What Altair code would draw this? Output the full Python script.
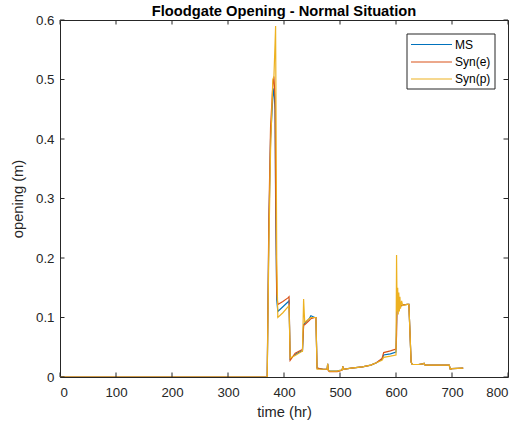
import altair as alt
import pandas as pd

# Gate opening time series (hours, metres)
time_hr = [0, 370, 373, 376, 380, 382, 384, 385, 387, 389, 398, 407, 409, 411,
           420, 430, 433, 435, 437, 445, 448, 455, 457, 459, 470, 477, 478, 479,
           481, 495, 500, 504, 505, 506, 520, 540, 555, 565, 572, 575, 578, 590,
           600, 601, 602, 603, 604, 605, 606, 607, 608, 610, 612, 620, 623, 627,
           629, 640, 648, 650, 652, 695, 697, 700, 720]

ms = [0, 0, 0.25, 0.40, 0.47, 0.485, 0.45, 0.30, 0.13, 0.110, 0.118, 0.126, 0.128, 0.030,
      0.038, 0.043, 0.044, 0.088, 0.090, 0.098, 0.103, 0.100, 0.100, 0.015, 0.013, 0.013, 0.022, 0.012,
      0.010, 0.010, 0.011, 0.012, 0.018, 0.013, 0.015, 0.017, 0.020, 0.024, 0.028, 0.030, 0.037, 0.039,
      0.042, 0.090, 0.148, 0.135, 0.130, 0.125, 0.122, 0.120, 0.120, 0.120, 0.121, 0.122, 0.122, 0.025,
      0.021, 0.021, 0.022, 0.023, 0.020, 0.020, 0.013, 0.014, 0.015]

syn_e = [0, 0, 0.27, 0.42, 0.49, 0.505, 0.47, 0.32, 0.14, 0.122, 0.127, 0.133, 0.135, 0.028,
         0.040, 0.045, 0.046, 0.087, 0.088, 0.095, 0.098, 0.100, 0.100, 0.015, 0.013, 0.013, 0.022, 0.011,
         0.009, 0.009, 0.010, 0.012, 0.018, 0.013, 0.015, 0.017, 0.020, 0.024, 0.029, 0.031, 0.041, 0.044,
         0.047, 0.070, 0.130, 0.140, 0.128, 0.125, 0.122, 0.120, 0.120, 0.120, 0.121, 0.122, 0.122, 0.025,
         0.021, 0.021, 0.022, 0.023, 0.020, 0.020, 0.013, 0.014, 0.015]

syn_p = [0, 0, 0.22, 0.38, 0.50, 0.505, 0.56, 0.59, 0.20, 0.100, 0.108, 0.118, 0.120, 0.032,
         0.036, 0.042, 0.043, 0.131, 0.092, 0.098, 0.100, 0.100, 0.100, 0.013, 0.013, 0.013, 0.022, 0.012,
         0.010, 0.010, 0.011, 0.012, 0.018, 0.013, 0.015, 0.017, 0.020, 0.024, 0.027, 0.028, 0.033, 0.035,
         0.037, 0.205, 0.110, 0.150, 0.105, 0.142, 0.110, 0.135, 0.115, 0.128, 0.120, 0.122, 0.122, 0.025,
         0.021, 0.021, 0.022, 0.023, 0.020, 0.020, 0.013, 0.014, 0.015]

series_names = ["MS", "Syn(e)", "Syn(p)"]
series_values = [ms, syn_e, syn_p]
series_colors = ["#0072BD", "#D95319", "#EDB120"]

x_ticks = [0, 100, 200, 300, 400, 500, 600, 700, 800]
y_ticks = [0, 0.1, 0.2, 0.3, 0.4, 0.5, 0.6]

W, H = 448, 357
FONT = "Liberation Sans"
INK = "#262626"
TICK = 4.5

axis_style = dict(
    grid=False, ticks=False, domain=False,
    labelFont=FONT, labelFontSize=13.3, labelColor=INK,
    titleFont=FONT, titleFontSize=14.7, titleFontWeight="normal", titleColor=INK,
)

x_enc = alt.X("t:Q", scale=alt.Scale(domain=[0, 800], nice=False, zero=False),
              axis=alt.Axis(values=x_ticks, format="d", title="time (hr)",
                            labelPadding=8, titlePadding=6, **axis_style))
y_enc = alt.Y("v:Q", scale=alt.Scale(domain=[0, 0.6], nice=False),
              axis=alt.Axis(values=y_ticks, format="~g", title="opening (m)",
                            labelPadding=6, titlePadding=10, **axis_style))

layers = []
for name, vals, col in zip(series_names, series_values, series_colors):
    df = pd.DataFrame({"t": time_hr, "v": vals})
    layers.append(
        alt.Chart(df).mark_line(color=col, strokeWidth=1.2, clip=True)
        .encode(x=x_enc, y=y_enc)
    )

# inward tick marks on all four sides
xt = pd.DataFrame({"t": x_ticks})
yt = pd.DataFrame({"v": y_ticks})
layers.append(alt.Chart(xt).mark_rule(color=INK, strokeWidth=1).encode(
    x=x_enc, y=alt.value(H), y2=alt.value(H - TICK)))
layers.append(alt.Chart(xt).mark_rule(color=INK, strokeWidth=1).encode(
    x=x_enc, y=alt.value(0), y2=alt.value(TICK)))
layers.append(alt.Chart(yt).mark_rule(color=INK, strokeWidth=1).encode(
    y=y_enc, x=alt.value(0), x2=alt.value(TICK)))
layers.append(alt.Chart(yt).mark_rule(color=INK, strokeWidth=1).encode(
    y=y_enc, x=alt.value(W), x2=alt.value(W - TICK)))

# legend box
LX0, LX1, LY0, LY1 = 347, 435, 14, 69
box = pd.DataFrame({"k": [0]})
layers.append(alt.Chart(box).mark_rect(fill="white", stroke=INK, strokeWidth=1).encode(
    x=alt.value(LX0), x2=alt.value(LX1), y=alt.value(LY0), y2=alt.value(LY1)))
row_y = [24.5, 42, 59]
for name, col, ry in zip(series_names, series_colors, row_y):
    lab = pd.DataFrame({"label": [name]})
    layers.append(alt.Chart(lab).mark_rule(color=col, strokeWidth=1.2).encode(
        x=alt.value(LX0 + 4), x2=alt.value(LX0 + 45), y=alt.value(ry)))
    layers.append(alt.Chart(lab).mark_text(
        align="left", baseline="middle", font=FONT, fontSize=12, color="black").encode(
        x=alt.value(LX0 + 48), y=alt.value(ry), text="label:N"))

chart = (
    alt.layer(*layers)
    .properties(
        width=W, height=H,
        title=alt.TitleParams(
            "Floodgate Opening - Normal Situation",
            font=FONT, fontSize=14.7, fontWeight="bold", color="black",
            anchor="middle", offset=3, dy=9,
        ),
        autosize=alt.AutoSizeParams(type="none"),
        padding={"left": 60, "top": 20, "right": 20, "bottom": 49},
        background="white",
    )
    .configure_view(stroke=INK, strokeWidth=1)
)

chart.save("out.html", embed_options={"renderer": "svg", "actions": False})
